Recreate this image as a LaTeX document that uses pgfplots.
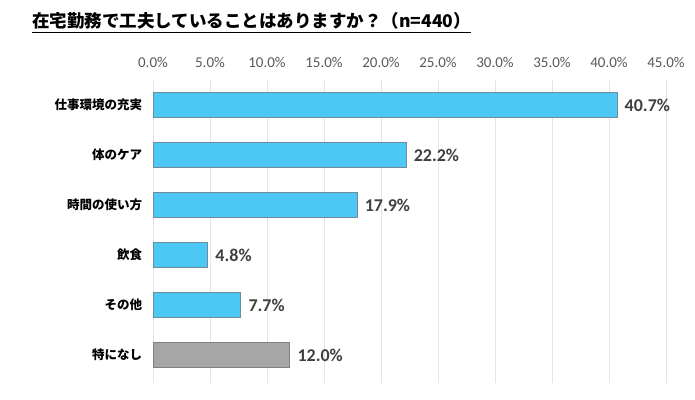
\documentclass[border=0pt]{standalone}
\usepackage{fontspec}
\usepackage{pgfplots}
\pgfplotsset{compat=1.18}
\setmainfont{Carlito}
\newfontfamily\jp{Noto Sans CJK JP}

\definecolor{barblue}{HTML}{4DC8F4}
\definecolor{baredge}{HTML}{6E8C9C}
\definecolor{bargray}{HTML}{A6A6A6}
\definecolor{grayedge}{HTML}{808080}
\definecolor{ticktext}{HTML}{595959}
\definecolor{labeltext}{HTML}{404040}

\begin{document}
\begin{tikzpicture}
\path[use as bounding box] (0,0) rectangle (695bp,400bp);

% title with underline
\node[anchor=base west, inner sep=0pt, font=\jp\bfseries\fontsize{17.5bp}{20bp}\selectfont, text=black]
  at (32bp,372bp) {在宅勤務で工夫していることはありますか？（n=440）};
\draw[black, line width=0.9bp] (32bp,368bp) -- (471bp,368bp);

\begin{axis}[
  at={(153bp,17bp)}, anchor=south west,
  scale only axis,
  width=513bp, height=303bp,
  xbar, bar width=25bp, bar shift=0pt,
  xmin=0, xmax=45,
  ymin=0.5, ymax=6.56,
  y dir=reverse,
  xtick={0,5,...,45},
  xticklabel pos=upper,
  xticklabel={\pgfmathprintnumber[fixed,fixed zerofill,precision=1]{\tick}\%},
  /pgf/number format/assume math mode=true,
  xticklabel style={font=\fontsize{15bp}{17bp}\selectfont, text=ticktext, yshift=9bp},
  ytick={1,2,3,4,5,6},
  yticklabels={仕事環境の充実,体のケア,時間の使い方,飲食,その他,特になし},
  yticklabel style={font=\jp\bfseries\fontsize{12.5bp}{14bp}\selectfont, text=black, xshift=-3bp},
  axis line style={draw=none},
  major tick style={draw=none},
  xmajorgrids=true,
  grid style={color=black!10, line width=0.6bp},
  nodes near coords={\pgfmathprintnumber[fixed,fixed zerofill,precision=1]{\pgfplotspointmeta}\%},
  nodes near coords style={font=\bfseries\fontsize{18bp}{20bp}\selectfont, text=labeltext, xshift=4bp},
  point meta=x,
]
\addplot[fill=barblue, draw=baredge, line width=0.8bp] coordinates {
  (40.7,1) (22.2,2) (17.9,3) (4.8,4) (7.7,5)
};
\addplot[fill=bargray, draw=grayedge, line width=0.8bp] coordinates {
  (12.0,6)
};
\end{axis}
\end{tikzpicture}
\end{document}
